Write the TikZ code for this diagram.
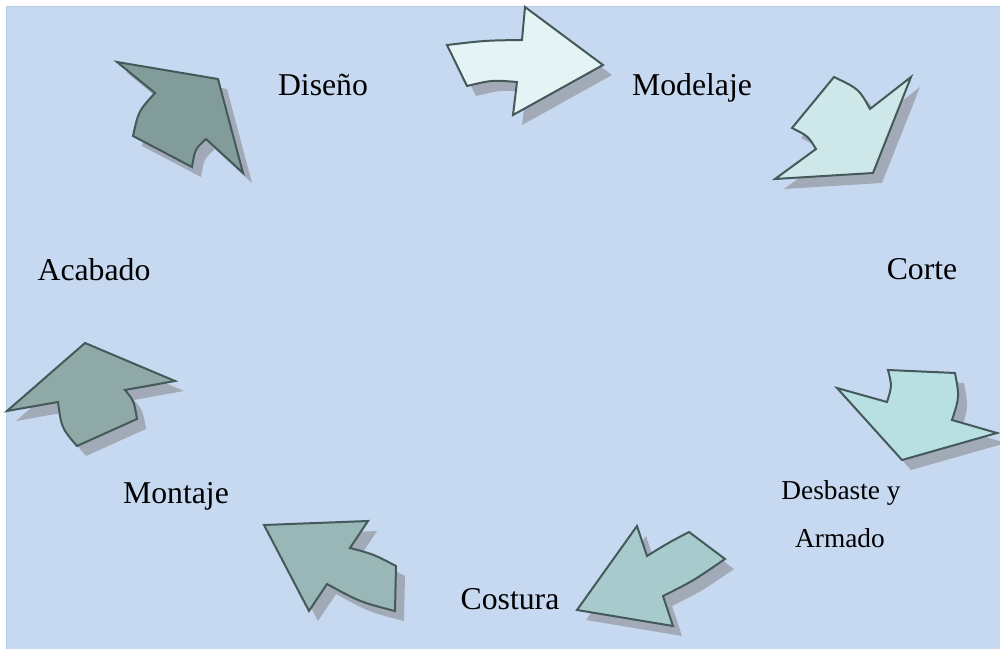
\documentclass[tikz,border=0pt]{standalone}
\usepackage{fontspec}
\setmainfont{Liberation Serif}
\usetikzlibrary{shadows}
\definecolor{panel}{HTML}{C6D9F1}
\definecolor{panelrim}{HTML}{B7CBE3}
\definecolor{rim}{HTML}{44595A}
\definecolor{shade}{HTML}{A3AAB7}
\definecolor{tone1}{HTML}{E4F3F4}
\definecolor{tone2}{HTML}{CEE8E9}
\definecolor{tone3}{HTML}{B8DFE1}
\definecolor{tone4}{HTML}{A7CBCC}
\definecolor{tone5}{HTML}{98B7B6}
\definecolor{tone6}{HTML}{8EA9A6}
\definecolor{tone7}{HTML}{829C99}
\begin{document}
\begin{tikzpicture}[
		x=0.75pt,
		y=-0.75pt,
		stage/.style={
				anchor=base,
				inner sep=0pt,
				font=\fontsize{23.8}{28}\selectfont
			},
		smallstage/.style={
				stage,
				font=\fontsize{20.5}{24}\selectfont
			},
		turn/.style={
				draw=rim,
				line width=1.5pt,
				line join=miter,
				drop shadow={shadow xshift=6.75pt, shadow yshift=-7.5pt, fill=shade, opacity=1}
			},
	]
	\useasboundingbox (0,0) rectangle (1000,649);
	\fill [panel] (6,6) rectangle (1000,649);
	\draw [panelrim, line width=1pt] (6.5,649) -- (6.5,6.5) -- (1000,6.5);
	% arrows, clockwise from the top
	\draw [turn, fill=tone1] (447,45) .. controls (485,40.5) .. (522,40) -- (525,7) -- (603,65) -- (513,115) -- (517,82) .. controls (492,80) .. (467,86) -- cycle;
	\draw [turn, fill=tone2] (834,77) .. controls (859,89) .. (870,109) -- (911,77) -- (873,173) -- (775,179) -- (816,149) .. controls (808,136) .. (792,128) -- cycle;
	\draw [turn, fill=tone3] (837,388) -- (887,402) .. controls (892,386) .. (888,370) -- (955,373) .. controls (959.5,397) .. (952,420) -- (997,433) -- (902,460) -- cycle;
	\draw [turn, fill=tone4] (637,526) -- (647,556) .. controls (668,543) .. (689,532) -- (725,559) .. controls (693,581) .. (663,596) -- (673,626) -- (577,610) -- cycle;
	\draw [turn, fill=tone5] (264,525) -- (368,521) -- (350,548) .. controls (373,554) .. (396,566) -- (395,611) .. controls (360,602) .. (327,584) -- (309,611) -- cycle;
	\draw [turn, fill=tone6] (85,343) -- (175,381) -- (125,390) .. controls (134,401) .. (137,419) -- (77,446) .. controls (61.5,428) .. (58,402) -- (7,411) -- cycle;
	\draw [turn, fill=tone7] (133,136) .. controls (138.5,111) .. (155,93) -- (117,62) -- (218,79) -- (243,173) -- (206,139) .. controls (195,149) .. (192,167) -- cycle;
	% stages
	\node [stage] (diseno) at (323,96) {Diseño};
	\node [stage] (modelaje) at (692,96) {Modelaje};
	\node [stage] (corte) at (922,279) {Corte};
	\node [smallstage] (desbaste) at (841,499) {Desbaste y};
	\node [smallstage] (armado) at (840,547) {Armado};
	\node [stage] (costura) at (510,609) {Costura};
	\node [stage] (montaje) at (176,503) {Montaje};
	\node [stage] (acabado) at (94,281) {Acabado};
\end{tikzpicture}
\end{document}
